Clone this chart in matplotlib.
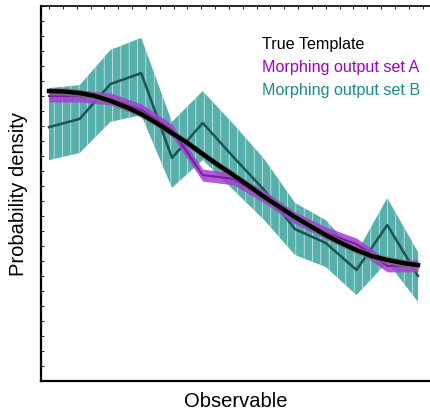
import numpy as np
import matplotlib.pyplot as plt
from matplotlib.ticker import MultipleLocator

plt.rcParams['font.family'] = ['Liberation Sans', 'DejaVu Sans']
plt.rcParams['hatch.linewidth'] = 0.45

# bins of the observable (bin index)
bins = np.arange(13)

# true template, read at half-bin steps
true_x = np.arange(0, 12.5, 0.5)
true_y = [0.773, 0.772, 0.768, 0.760, 0.747, 0.731, 0.712, 0.688, 0.661,
          0.635, 0.605, 0.576, 0.549, 0.520, 0.491, 0.464, 0.437, 0.413,
          0.389, 0.368, 0.349, 0.333, 0.323, 0.315, 0.309]
true_err = 0.010

# morphing output set A
set_a = [0.760, 0.760, 0.752, 0.723, 0.669, 0.549, 0.539, 0.491, 0.435,
         0.395, 0.365, 0.307, 0.307]
set_a_err = 0.016

# morphing output set B with band
set_b = [0.677, 0.699, 0.792, 0.821, 0.595, 0.688, 0.597, 0.509, 0.405,
         0.368, 0.296, 0.416, 0.280]
set_b_up = [0.781, 0.789, 0.883, 0.915, 0.691, 0.773, 0.685, 0.592, 0.475,
            0.429, 0.341, 0.488, 0.344]
set_b_lo = [0.589, 0.608, 0.691, 0.709, 0.515, 0.589, 0.509, 0.429, 0.336,
            0.304, 0.229, 0.317, 0.211]

fig = plt.figure(figsize=(4.3, 4.12), dpi=100)
ax = fig.add_axes([41 / 430, 1 - 381 / 412, 1 - 41 / 430, 375 / 412])

# set B: teal band with thin white vertical hatch
ax.fill_between(bins, set_b_lo, set_b_up, facecolor='#58b0ac',
                edgecolor='#e8f6f5', hatch='||', linewidth=0, zorder=1)
ax.plot(bins, set_b, color='#1b5553', linewidth=1.8, zorder=2)

# set A: purple band
a = np.array(set_a)
ax.fill_between(bins, a - set_a_err, a + set_a_err, color='#a53ed0',
                linewidth=0, alpha=0.85, zorder=3)
ax.plot(bins, a, color='#7d1aa6', linewidth=1.5, zorder=4)

# true template
t = np.array(true_y)
ax.fill_between(true_x, t - true_err, t + true_err, color='#777777',
                linewidth=0, alpha=0.7, zorder=5)
ax.plot(true_x, t, color='black', linewidth=3.2, zorder=6)

ax.set_xlim(-0.26, 12.39)
ax.set_ylim(0, 1)

ax.xaxis.set_major_locator(MultipleLocator(0.45))
ax.yaxis.set_major_locator(MultipleLocator(0.04))
ax.tick_params(direction='in', length=2.5, width=0.6, top=True, bottom=False,
               right=False, labelbottom=False, labelleft=False)
ax.spines['right'].set_visible(False)
for s in ['left', 'bottom']:
    ax.spines[s].set_linewidth(1.6)
ax.spines['top'].set_linewidth(1.2)

ax.set_xlabel('Observable', fontsize=14.5, labelpad=8)
ax.set_ylabel('Probability density', fontsize=14.5, labelpad=9)

# legend written as coloured text
labels = ['True Template', 'Morphing output set A', 'Morphing output set B']
colors = ['black', '#a000c8', '#1a8c88']
for i, (lab, col) in enumerate(zip(labels, colors)):
    ax.text(0.567, 0.897 - i * 0.0615, lab, color=col, fontsize=11.6,
            transform=ax.transAxes, va='center', ha='left')

fig.savefig('out.png', dpi=100)
